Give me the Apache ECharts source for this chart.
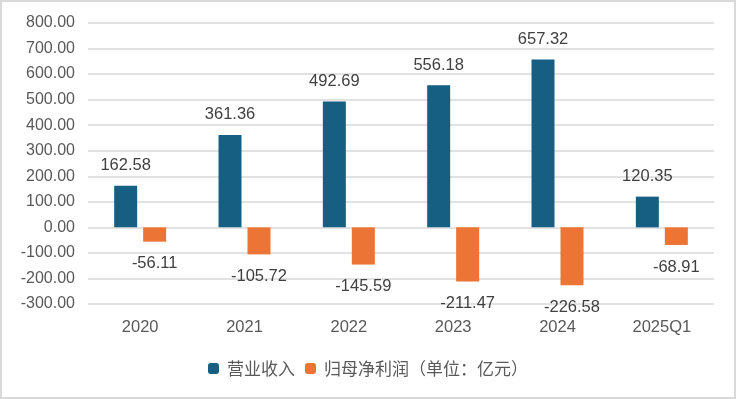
<!DOCTYPE html>
<html>
<head>
<meta charset="utf-8">
<script src="https://cdn.jsdelivr.net/npm/echarts@6/dist/echarts.min.js"></script>
<style>
  html, body { margin: 0; padding: 0; background: #fff; }
  #chart { width: 732px; height: 395px; border: 2px solid #d9d9d9; }
</style>
</head>
<body>
<div id="chart"></div>
<script>
  // 年份
  const categories = ['2020', '2021', '2022', '2023', '2024', '2025Q1']
  // 营业收入
  const revenue = [162.58, 361.36, 492.69, 556.18, 657.32, 120.35]
  // 归母净利润
  const netProfit = [-56.11, -105.72, -145.59, -211.47, -226.58, -68.91]

  const textColor = '#595959'
  const font = "'Liberation Sans', 'Noto Sans CJK SC', sans-serif"

  var myChart = echarts.init(document.getElementById('chart'))
  const option = {
    animation: false,
    textStyle: { fontFamily: font },
    legend: {
      bottom: 15,
      left: 'center',
      itemWidth: 11,
      itemHeight: 11,
      itemGap: 10,
      textStyle: { color: textColor, fontSize: 17, fontFamily: "'Noto Sans CJK SC', sans-serif", padding: [0, 0, 0, 3] },
      data: ['营业收入', '归母净利润（单位：亿元）'],
    },
    grid: {
      top: 21,
      left: 86,
      right: 20,
      bottom: 93,
    },
    xAxis: {
      type: 'category',
      data: categories,
      axisLine: { show: false, onZero: false },
      axisTick: { show: false },
      axisLabel: { color: textColor, fontSize: 16.5, margin: 15 },
    },
    yAxis: {
      type: 'value',
      min: -300,
      max: 800,
      interval: 100,
      axisLabel: {
        color: textColor,
        fontSize: 16,
        margin: 13,
        formatter: (v) => v.toFixed(2),
      },
      splitLine: { lineStyle: { color: '#d9d9d9', width: 1.5 } },
    },
    series: [
      {
        name: '营业收入',
        type: 'bar',
        data: revenue,
        barWidth: 23,
        barGap: '26%',
        itemStyle: { color: '#175f82' },
        label: {
          show: true,
          position: 'top',
          distance: 12,
          color: '#404040',
          fontSize: 16.5,
          formatter: (p) => p.value.toFixed(2),
        },
      },
      {
        name: '归母净利润（单位：亿元）',
        type: 'bar',
        data: netProfit,
        barWidth: 23,
        itemStyle: { color: '#ec7434' },
        label: {
          show: true,
          position: 'bottom',
          distance: 14,
          color: '#404040',
          fontSize: 16.5,
          formatter: (p) => p.value.toFixed(2),
        },
      },
    ],
  }
  myChart.setOption(option)
</script>
</body>
</html>
